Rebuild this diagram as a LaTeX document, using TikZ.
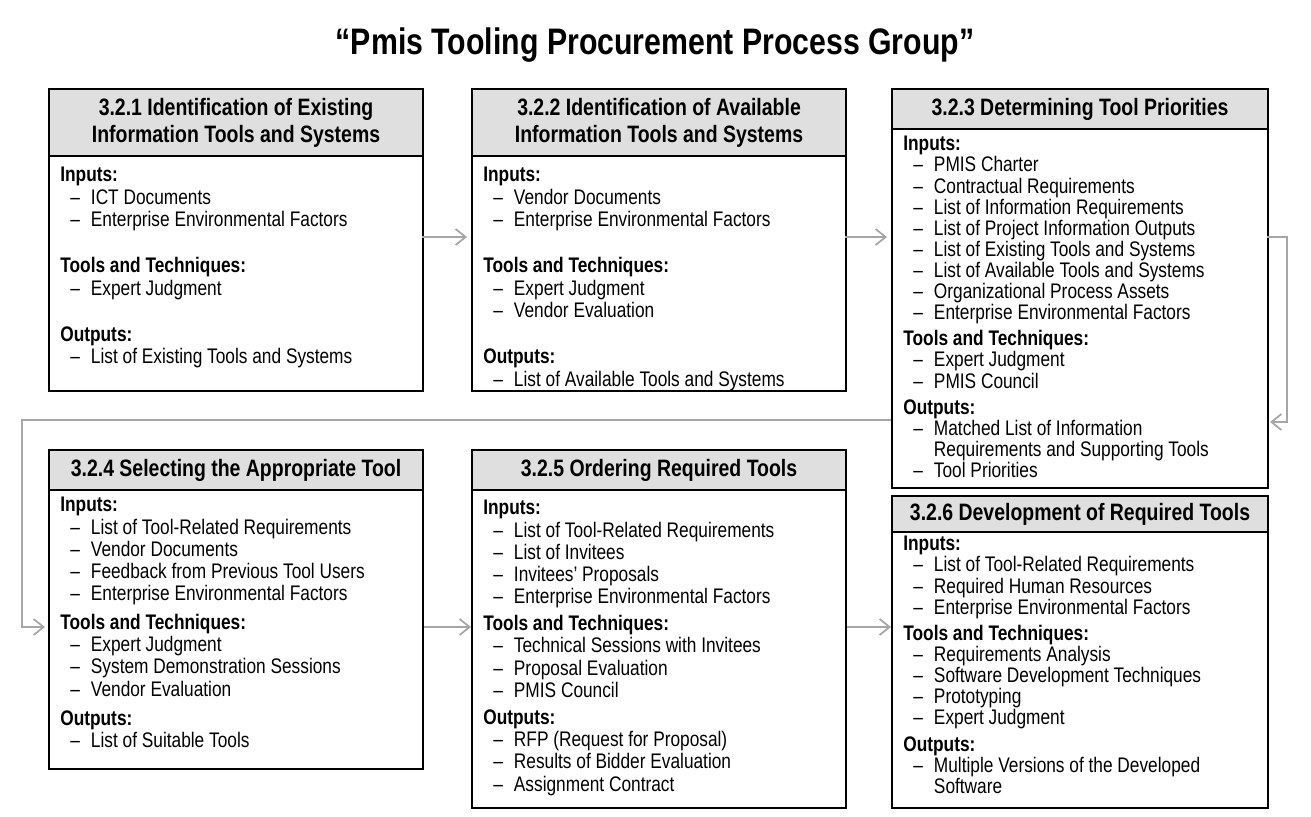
\documentclass[tikz,border=0pt]{standalone}
\usepackage{fontspec}
\setmainfont[FakeStretch=0.82]{Liberation Sans}
\usetikzlibrary{arrows.meta}
\newcommand\itm[1]{\\\hspace*{0.2cm}--\hspace{0.22cm}#1}
\newcommand\cnt[1]{\\\hspace*{0.2cm}\phantom{--}\hspace{0.22cm}#1}
\newcommand\sect[2][0pt]{\\[#1]\textbf{#2}}
\tikzset{
  hdr/.style={draw,line width=1.2pt,fill=gray!25,anchor=north west,align=center,
    font=\fontsize{13.5}{15.5}\selectfont\bfseries,inner sep=0pt},
  bdy/.style={draw,line width=1.2pt,anchor=north west,inner sep=0pt},
  txt/.style={anchor=north west,align=left,inner sep=0pt,
    font=\fontsize{12}{12.6}\selectfont},
  flow/.style={draw=gray!70,line width=1pt,-{Straight Barb[length=2mm,width=3.2mm]}}
}
\begin{document}
\begin{tikzpicture}[x=0.02cm,y=-0.02cm]
\useasboundingbox (0,0) rectangle (1311,816);
\node[font=\fontsize{21}{24}\selectfont\bfseries] (title) at (655,45) {``Pmis Tooling Procurement Process Group''};

% top row
\node[bdy,minimum width=7.48cm,minimum height=4.7cm] (b1) at (48,155) {};
\node[hdr,minimum width=7.48cm,minimum height=1.34cm] (h1) at (48,88) {3.2.1 Identification of Existing\\Information Tools and Systems};
\node[txt] (t1) at (60,167) {\textbf{Inputs:}\itm{ICT Documents}\itm{Enterprise Environmental Factors}
  \sect[14pt]{Tools and Techniques:}\itm{Expert Judgment}
  \sect[14pt]{Outputs:}\itm{List of Existing Tools and Systems}};

\node[bdy,minimum width=7.48cm,minimum height=4.7cm] (b2) at (471,155) {};
\node[hdr,minimum width=7.48cm,minimum height=1.34cm] (h2) at (471,88) {3.2.2 Identification of Available\\Information Tools and Systems};
\node[txt] (t2) at (483,167) {\textbf{Inputs:}\itm{Vendor Documents}\itm{Enterprise Environmental Factors}
  \sect[14pt]{Tools and Techniques:}\itm{Expert Judgment}\itm{Vendor Evaluation}
  \sect[14pt]{Outputs:}\itm{List of Available Tools and Systems}};

\node[bdy,minimum width=7.52cm,minimum height=7.18cm] (b3) at (891,128) {};
\node[hdr,minimum width=7.52cm,minimum height=0.8cm] (h3) at (891,88) {3.2.3 Determining Tool Priorities};
\node[txt,font=\fontsize{12}{12}\selectfont] (t3) at (903,136) {\textbf{Inputs:}\itm{PMIS Charter}\itm{Contractual Requirements}
  \itm{List of Information Requirements}\itm{List of Project Information Outputs}
  \itm{List of Existing Tools and Systems}\itm{List of Available Tools and Systems}
  \itm{Organizational Process Assets}\itm{Enterprise Environmental Factors}
  \sect[3pt]{Tools and Techniques:}\itm{Expert Judgment}\itm{PMIS Council}
  \sect[3pt]{Outputs:}\itm{Matched List of Information}\cnt{Requirements and Supporting Tools}\itm{Tool Priorities}};

% bottom row
\node[bdy,minimum width=7.48cm,minimum height=5.58cm] (b4) at (48,489) {};
\node[hdr,minimum width=7.48cm,minimum height=0.8cm] (h4) at (48,449) {3.2.4 Selecting the Appropriate Tool};
\node[txt] (t4) at (60,497) {\textbf{Inputs:}\itm{List of Tool-Related Requirements}\itm{Vendor Documents}
  \itm{Feedback from Previous Tool Users}\itm{Enterprise Environmental Factors}
  \sect[4pt]{Tools and Techniques:}\itm{Expert Judgment}\itm{System Demonstration Sessions}\itm{Vendor Evaluation}
  \sect[4pt]{Outputs:}\itm{List of Suitable Tools}};

\node[bdy,minimum width=7.48cm,minimum height=6.36cm] (b5) at (471,489) {};
\node[hdr,minimum width=7.48cm,minimum height=0.8cm] (h5) at (471,449) {3.2.5 Ordering Required Tools};
\node[txt] (t5) at (483,500) {\textbf{Inputs:}\itm{List of Tool-Related Requirements}\itm{List of Invitees}
  \itm{Invitees' Proposals}\itm{Enterprise Environmental Factors}
  \sect[3pt]{Tools and Techniques:}\itm{Technical Sessions with Invitees}\itm{Proposal Evaluation}\itm{PMIS Council}
  \sect[3pt]{Outputs:}\itm{RFP (Request for Proposal)}\itm{Results of Bidder Evaluation}\itm{Assignment Contract}};

\node[bdy,minimum width=7.52cm,minimum height=5.52cm] (b6) at (891,531) {};
\node[hdr,minimum width=7.52cm,minimum height=0.72cm] (h6) at (891,495) {3.2.6 Development of Required Tools};
\node[txt,font=\fontsize{12}{12}\selectfont] (t6) at (903,536) {\textbf{Inputs:}\itm{List of Tool-Related Requirements}\itm{Required Human Resources}
  \itm{Enterprise Environmental Factors}
  \sect[3pt]{Tools and Techniques:}\itm{Requirements Analysis}\itm{Software Development Techniques}
  \itm{Prototyping}\itm{Expert Judgment}
  \sect[3pt]{Outputs:}\itm{Multiple Versions of the Developed}\cnt{Software}};

% connectors
\coordinate (a1) at (422,237);
\coordinate (a2) at (467,237);
\coordinate (a3) at (845,237);
\coordinate (a4) at (887,237);
\coordinate (a5) at (1267,237);
\coordinate (a6) at (1270,422);
\coordinate (a7) at (891,420);
\coordinate (a8) at (45,627);
\path[flow] (a1) -- (a2);
\path[flow] (a3) -- (a4);
\path[flow] (a5) -- ++(20,0) |- (a6);
\path[flow] (a7) -- (22,420) |- (a8);
\path[flow] (b4.east |- a8) -- (b5.west |- a8);
\path[flow] (b5.east |- a8) -- (b6.west |- a8);
\end{tikzpicture}
\end{document}
